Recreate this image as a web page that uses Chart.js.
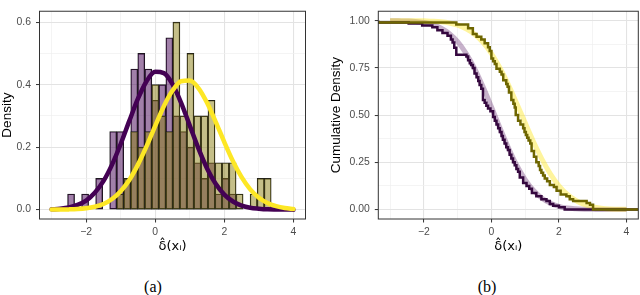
<!DOCTYPE html>
<html>
<head>
<meta charset="utf-8">
<script src="https://cdn.jsdelivr.net/npm/chart.js@4.4.0/dist/chart.umd.min.js"></script>
<style>
  body { margin: 0; background: #fff; }
  #wrap { position: relative; width: 640px; height: 295px; }
  canvas { position: absolute; top: 0; }
  #histChart { left: 0; }
  #cdfChart { left: 320px; }
  .cap { position: absolute; top: 279px; width: 40px; text-align: center; font: 16px/16px "Liberation Serif", serif; color: #000; }
</style>
</head>
<body>
<div id="wrap">
  <canvas id="histChart" width="320" height="262"></canvas>
  <canvas id="cdfChart" width="320" height="262"></canvas>
  <div class="cap" style="left:133px">(a)</div>
  <div class="cap" style="left:467px">(b)</div>
</div>
<script>
// histogram bins (mid points) and densities
const binMids = [-2.436, -2.233, -2.030, -1.826, -1.623, -1.420, -1.217, -1.014, -0.810, -0.607,
                 -0.404, -0.200, 0.003, 0.206, 0.409, 0.613, 0.816, 1.019, 1.222, 1.426,
                 1.629, 1.832, 2.035, 2.239, 2.442, 2.645, 2.848, 3.052, 3.255];
const histPurple = [0.05, 0, 0.05, 0, 0.10, 0, 0.25, 0.25, 0.10, 0.45,
                    0.50, 0.45, 0.35, 0.40, 0.55, 0.30, 0.25, 0.20, 0.15, 0.10,
                    0.15, 0.05, 0.10, 0.05, 0, 0, 0, 0, 0];
const histOlive = [0, 0, 0, 0, 0, 0, 0, 0.05, 0.10, 0.25,
                   0.20, 0.25, 0.40, 0.30, 0.25, 0.60, 0.30, 0.50, 0.30, 0.30,
                   0.35, 0.15, 0.15, 0.15, 0.05, 0, 0.05, 0.10, 0.10];

// density curves (a) and smooth bands (b), read at these x values
const curveX = [-3, -2.75, -2.5, -2.25, -2, -1.75, -1.5, -1.25, -1, -0.75, -0.5, -0.25, 0, 0.25, 0.5,
                0.75, 1, 1.25, 1.5, 1.75, 2, 2.25, 2.5, 2.75, 3, 3.25, 3.5, 3.75, 4];
const curvePurple = [0.001, 0.003, 0.007, 0.015, 0.029, 0.054, 0.091, 0.144, 0.210, 0.284,
                     0.355, 0.411, 0.441, 0.437, 0.402, 0.342, 0.269, 0.196, 0.132, 0.083,
                     0.048, 0.026, 0.013, 0.006, 0.003, 0.001, 0.0004, 0.0001, 0];
const curveYellow = [0.0001, 0.0003, 0.0008, 0.0019, 0.0043, 0.0092, 0.018, 0.034, 0.059, 0.095,
                     0.144, 0.203, 0.268, 0.331, 0.381, 0.411, 0.413, 0.389, 0.342, 0.281,
                     0.216, 0.155, 0.104, 0.065, 0.038, 0.021, 0.011, 0.005, 0.002];
const bandPurple = [1.0, 0.999, 0.998, 0.996, 0.990, 0.980, 0.962, 0.933, 0.889, 0.827,
                    0.748, 0.651, 0.544, 0.434, 0.329, 0.235, 0.159, 0.101, 0.060, 0.033,
                    0.017, 0.008, 0.004, 0.002, 0.001, 0, 0, 0, 0];
const bandYellow = [1.0, 1.0, 1.0, 0.999, 0.999, 0.997, 0.994, 0.988, 0.976, 0.957,
                    0.928, 0.885, 0.826, 0.751, 0.662, 0.562, 0.459, 0.358, 0.266, 0.188,
                    0.126, 0.080, 0.048, 0.027, 0.014, 0.007, 0.003, 0.002, 0.001];

// empirical step curves (b)
const stepPurpleX = [-3.35, -2.45, -2.05, -1.75, -1.6, -1.45, -1.3, -1.2, -1.15, -1.1,
                     -1.04, -0.74, -0.69, -0.64, -0.6, -0.55, -0.5, -0.44, -0.39, -0.35,
                     -0.3, -0.25, -0.2, -0.15, -0.1, -0.03, 0.05, 0.1, 0.15, 0.2,
                     0.25, 0.3, 0.34, 0.39, 0.44, 0.49, 0.54, 0.59, 0.64, 0.69,
                     0.74, 0.79, 0.84, 0.94, 1.04, 1.12, 1.2, 1.33, 1.48, 1.63,
                     1.73, 1.83, 2.0, 2.17, 2.22, 4.35];
const stepPurpleY = [1.0, 0.99, 0.985, 0.975, 0.965, 0.95, 0.935, 0.92, 0.9, 0.885,
                     0.857, 0.82, 0.81, 0.79, 0.775, 0.765, 0.75, 0.72, 0.70, 0.68,
                     0.66, 0.64, 0.58, 0.565, 0.55, 0.535, 0.52, 0.49, 0.47, 0.45,
                     0.43, 0.41, 0.39, 0.37, 0.35, 0.33, 0.315, 0.29, 0.27, 0.25,
                     0.235, 0.215, 0.2, 0.17, 0.14, 0.125, 0.11, 0.087, 0.07, 0.054,
                     0.045, 0.03, 0.02, 0.012, 0, 0];
const stepOliveX = [-3.35, -1.04, -0.69, -0.55, -0.44, -0.3, -0.2, -0.1, -0.05, 0.0,
                    0.05, 0.1, 0.15, 0.25, 0.3, 0.35, 0.44, 0.48, 0.52, 0.59,
                    0.65, 0.69, 0.72, 0.79, 0.86, 0.94, 0.98, 1.02, 1.06, 1.1,
                    1.15, 1.19, 1.26, 1.33, 1.4, 1.44, 1.48, 1.53, 1.58, 1.65,
                    1.73, 1.85, 1.93, 2.05, 2.22, 2.32, 2.42, 2.82, 2.92, 3.01,
                    3.11, 4.35];
const stepOliveY = [1.0, 0.99, 0.98, 0.96, 0.93, 0.915, 0.9, 0.88, 0.86, 0.84,
                    0.8, 0.785, 0.77, 0.745, 0.73, 0.715, 0.685, 0.665, 0.65, 0.62,
                    0.58, 0.56, 0.54, 0.5, 0.47, 0.45, 0.43, 0.41, 0.395, 0.38,
                    0.365, 0.35, 0.31, 0.28, 0.25, 0.23, 0.21, 0.195, 0.18, 0.165,
                    0.15, 0.13, 0.12, 0.1, 0.08, 0.07, 0.055, 0.045, 0.035, 0.025,
                    0, 0];

// ticks
const xMajor = [-2, 0, 2, 4];
const xLabels = ['\u22122', '0', '2', '4'];
const xMinor = [-3, -1, 1, 3];
const densMajor = [0, 0.2, 0.4, 0.6];
const densLabels = ['0.0', '0.2', '0.4', '0.6'];
const densMinor = [0.1, 0.3, 0.5];
const cumMajor = [0, 0.25, 0.5, 0.75, 1];
const cumLabels = ['0.00', '0.25', '0.50', '0.75', '1.00'];
const cumMinor = [0.125, 0.375, 0.625, 0.875];

Chart.defaults.font.family = '"Liberation Sans", Arial, sans-serif';

const pts = (xs, ys) => xs.map((x, i) => ({ x: x, y: ys[i] }));
const isIn = (list, v) => list.some(m => Math.abs(m - v) < 1e-9);

function axis(majors, minors, labels, opts) {
  const major = ctx => ctx.tick && isIn(majors, ctx.tick.value);
  return {
    type: 'linear',
    min: opts.min,
    max: opts.max,
    bounds: 'data',
    offset: false,
    afterBuildTicks: a => { a.ticks = majors.concat(minors).sort((p, q) => p - q).map(v => ({ value: v })); },
    afterFit: opts.fit,
    border: { display: false },
    grid: {
      offset: false,
      color: ctx => major(ctx) ? '#e3e3e3' : '#efefef',
      lineWidth: ctx => major(ctx) ? 1.1 : 0.7,
      tickColor: ctx => major(ctx) ? '#333333' : 'rgba(0,0,0,0)',
      tickWidth: 1,
      tickLength: 3.5
    },
    ticks: {
      autoSkip: false,
      maxRotation: 0,
      padding: opts.tickPad,
      color: '#4d4d4d',
      font: { size: 10.4 },
      callback: v => { const i = majors.findIndex(m => Math.abs(m - v) < 1e-9); return i < 0 ? '' : labels[i]; }
    },
    title: opts.title
  };
}

const panelBorder = {
  id: 'panelBorder',
  afterDraw(chart) {
    const { ctx, chartArea: a } = chart;
    ctx.save();
    ctx.strokeStyle = '#333333';
    ctx.lineWidth = 1;
    ctx.strokeRect(a.left, a.top, a.right - a.left, a.bottom - a.top);
    ctx.restore();
  }
};

const xTitle = (pad) => ({
  display: true, text: '\u03B4\u0302(x\u1D62)', color: '#000',
  font: { family: '"DejaVu Sans", sans-serif', size: 13, lineHeight: 1 }, padding: { top: 0, bottom: pad }
});
const yTitle = (text, pad) => ({
  display: true, text: text, color: '#000',
  font: { size: 13.5, lineHeight: 1 }, padding: { top: pad, bottom: 0 }
});

const common = {
  responsive: false,
  devicePixelRatio: 1,
  animation: false,
  events: [],
  plugins: { legend: { display: false }, tooltip: { enabled: false } }
};

// panel (a): histogram + density curves
new Chart(document.getElementById('histChart'), {
  type: 'bar',
  data: {
    datasets: [
      { type: 'line', label: 'curve 2', data: pts(curveX, curveYellow), borderColor: '#FDE725', borderWidth: 4.5,
        pointRadius: 0, cubicInterpolationMode: 'monotone', borderCapStyle: 'round', order: 0 },
      { type: 'line', label: 'curve 1', data: pts(curveX, curvePurple), borderColor: '#440154', borderWidth: 4.5,
        pointRadius: 0, cubicInterpolationMode: 'monotone', borderCapStyle: 'round', order: 1 },
      { type: 'bar', label: 'hist 2', data: pts(binMids, histOlive), backgroundColor: 'rgba(140,128,20,0.5)',
        borderColor: '#1a1a1a', borderWidth: 0.7, borderSkipped: false, grouped: false,
        barPercentage: 1, categoryPercentage: 1, order: 2 },
      { type: 'bar', label: 'hist 1', data: pts(binMids, histPurple), backgroundColor: 'rgba(68,1,84,0.5)',
        borderColor: '#1a1a1a', borderWidth: 0.7, borderSkipped: false, grouped: false,
        barPercentage: 1, categoryPercentage: 1, order: 3 }
    ]
  },
  options: Object.assign({}, common, {
    layout: { padding: { left: 0, right: 14.5, top: 1, bottom: 0 } },
    scales: {
      x: axis(xMajor, xMinor, xLabels, { min: -3.35, max: 4.35, tickPad: 3, fit: s => { s.height = 43; }, title: xTitle(8.5) }),
      y: axis(densMajor, densMinor, densLabels, { min: -0.03, max: 0.635, tickPad: 5, fit: s => { s.width = 39.5; }, title: yTitle('Density', 0.8) })
    }
  }),
  plugins: [panelBorder]
});

// panel (b): cumulative curves
new Chart(document.getElementById('cdfChart'), {
  type: 'line',
  data: {
    datasets: [
      { label: 'step 2', data: pts(stepOliveX, stepOliveY), borderColor: '#6e6600', borderWidth: 2.5,
        stepped: 'after', pointRadius: 0, order: 0 },
      { label: 'step 1', data: pts(stepPurpleX, stepPurpleY), borderColor: '#35083f', borderWidth: 2.5,
        stepped: 'after', pointRadius: 0, order: 1 },
      { label: 'band 2', data: pts(curveX, bandYellow), borderColor: 'rgba(253,231,37,0.45)', borderWidth: 5,
        pointRadius: 0, cubicInterpolationMode: 'monotone', order: 2 },
      { label: 'band 1', data: pts(curveX, bandPurple), borderColor: 'rgba(68,1,84,0.3)', borderWidth: 5,
        pointRadius: 0, cubicInterpolationMode: 'monotone', order: 3 }
    ]
  },
  options: Object.assign({}, common, {
    layout: { padding: { left: 0, right: 1.7, top: 1.7, bottom: 0 } },
    scales: {
      x: axis(xMajor, xMinor, xLabels, { min: -3.35, max: 4.35, tickPad: 3, fit: s => { s.height = 43; }, title: xTitle(8.5) }),
      y: axis(cumMajor, cumMinor, cumLabels, { min: -0.05, max: 1.05, tickPad: 5, fit: s => { s.width = 58.3; }, title: yTitle('Cumulative Density', 10) })
    }
  }),
  plugins: [panelBorder]
});
</script>
</body>
</html>
